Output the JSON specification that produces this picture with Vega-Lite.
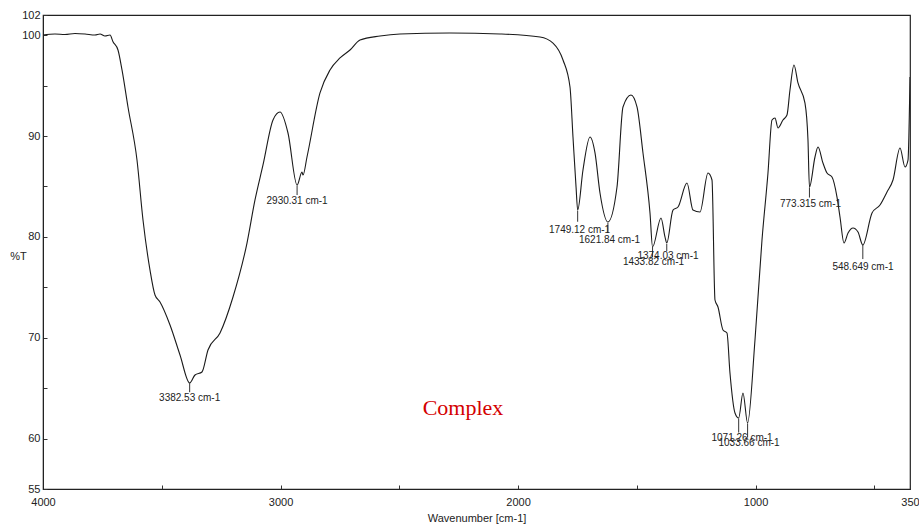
{
  "$schema": "https://vega.github.io/schema/vega-lite/v6.json",
  "width": 867,
  "height": 474,
  "autosize": "none",
  "padding": {"left": 43, "top": 15, "right": 9, "bottom": 37},
  "background": "white",
  "config": {
    "view": {"stroke": "#222222", "strokeWidth": 1.2},
    "font": "Liberation Sans Narrow, Liberation Sans, Arial"
  },
  "datasets": {
    "spectrum": [
      {"w": 4000, "t": 100.02}, {"w": 3949.5, "t": 100.12}, {"w": 3907.4, "t": 100.07}, {"w": 3865.3, "t": 100.17},
      {"w": 3823.2, "t": 100.12}, {"w": 3781.1, "t": 100.02}, {"w": 3760.0, "t": 100.12}, {"w": 3739.0, "t": 99.92},
      {"w": 3717.9, "t": 100.02}, {"w": 3705.3, "t": 99.35}, {"w": 3684.3, "t": 98.53}, {"w": 3667.4, "t": 96.55},
      {"w": 3642.2, "t": 92.88}, {"w": 3604.3, "t": 87.62}, {"w": 3579.0, "t": 81.67}, {"w": 3549.5, "t": 76.71},
      {"w": 3528.5, "t": 74.24}, {"w": 3507.4, "t": 73.54}, {"w": 3465.3, "t": 71.26}, {"w": 3423.2, "t": 68.29},
      {"w": 3382.5, "t": 65.51}, {"w": 3360.1, "t": 66.3}, {"w": 3330.6, "t": 66.6}, {"w": 3305.4, "t": 68.78},
      {"w": 3254.8, "t": 70.47}, {"w": 3200.1, "t": 74.04}, {"w": 3141.2, "t": 79.39}, {"w": 3107.5, "t": 83.66},
      {"w": 3073.8, "t": 87.13}, {"w": 3031.7, "t": 91.59}, {"w": 3002.3, "t": 92.38}, {"w": 2968.6, "t": 90.3},
      {"w": 2930.3, "t": 85.14}, {"w": 2909.7, "t": 86.43}, {"w": 2905.4, "t": 86.13}, {"w": 2888.6, "t": 87.92},
      {"w": 2833.9, "t": 94.27}, {"w": 2791.8, "t": 96.55}, {"w": 2749.7, "t": 97.74}, {"w": 2707.6, "t": 98.53},
      {"w": 2665.5, "t": 99.52}, {"w": 2581.3, "t": 99.92}, {"w": 2497.1, "t": 100.12}, {"w": 2286.6, "t": 100.22},
      {"w": 2076.1, "t": 100.12}, {"w": 1907.7, "t": 99.82}, {"w": 1852.9, "t": 99.22}, {"w": 1810.8, "t": 97.54},
      {"w": 1781.4, "t": 94.86}, {"w": 1768.8, "t": 89.9}, {"w": 1755.9, "t": 84.94}, {"w": 1749.1, "t": 82.66},
      {"w": 1726.7, "t": 86.63}, {"w": 1697.2, "t": 89.9}, {"w": 1676.1, "t": 88.32}, {"w": 1655.1, "t": 84.35},
      {"w": 1621.8, "t": 81.47}, {"w": 1583.5, "t": 84.94}, {"w": 1558.3, "t": 92.88}, {"w": 1524.6, "t": 94.07},
      {"w": 1499.3, "t": 92.88}, {"w": 1474.1, "t": 88.32}, {"w": 1444.6, "t": 82.37}, {"w": 1433.8, "t": 79.0},
      {"w": 1398.3, "t": 81.87}, {"w": 1381.5, "t": 79.99}, {"w": 1374.0, "t": 79.39}, {"w": 1347.8, "t": 82.66},
      {"w": 1326.7, "t": 82.96}, {"w": 1288.9, "t": 85.34}, {"w": 1263.6, "t": 82.66}, {"w": 1234.1, "t": 82.47},
      {"w": 1200.4, "t": 86.33}, {"w": 1183.6, "t": 85.64}, {"w": 1171.0, "t": 73.74}, {"w": 1158.4, "t": 73.05},
      {"w": 1137.3, "t": 70.77}, {"w": 1120.5, "t": 70.47}, {"w": 1107.9, "t": 66.5}, {"w": 1086.8, "t": 62.54},
      {"w": 1071.3, "t": 62.04}, {"w": 1053.1, "t": 64.52}, {"w": 1033.7, "t": 61.54}, {"w": 1002.6, "t": 69.77},
      {"w": 973.1, "t": 79.69}, {"w": 947.9, "t": 86.33}, {"w": 931.0, "t": 91.59}, {"w": 918.4, "t": 91.79},
      {"w": 905.8, "t": 90.8}, {"w": 884.7, "t": 91.59}, {"w": 867.9, "t": 92.08}, {"w": 855.3, "t": 94.56},
      {"w": 838.4, "t": 97.04}, {"w": 821.6, "t": 95.26}, {"w": 792.1, "t": 93.27}, {"w": 779.5, "t": 89.61},
      {"w": 773.3, "t": 84.94}, {"w": 750.0, "t": 87.92}, {"w": 737.3, "t": 88.91}, {"w": 716.3, "t": 87.32},
      {"w": 699.4, "t": 86.33}, {"w": 678.4, "t": 85.94}, {"w": 657.3, "t": 83.95}, {"w": 644.7, "t": 81.97},
      {"w": 627.8, "t": 79.39}, {"w": 610.9, "t": 80.38}, {"w": 589.9, "t": 80.88}, {"w": 568.9, "t": 80.48},
      {"w": 548.6, "t": 79.19}, {"w": 509.9, "t": 82.37}, {"w": 476.3, "t": 83.16}, {"w": 446.8, "t": 84.45},
      {"w": 421.6, "t": 85.64}, {"w": 392.1, "t": 88.81}, {"w": 371.0, "t": 86.93}, {"w": 358.4, "t": 87.62},
      {"w": 350, "t": 95.85}
    ],
    "peaks": [
      {"label": "3382.53 cm-1", "w": 3382.53, "tmin": 65.5, "tend": 64.6, "lw": 3382.5, "lt": 64.02},
      {"label": "2930.31 cm-1", "w": 2930.31, "tmin": 85.1, "tend": 84.15, "lw": 2930.3, "lt": 83.56},
      {"label": "1749.12 cm-1", "w": 1749.12, "tmin": 82.6, "tend": 81.5, "lw": 1741, "lt": 80.7},
      {"label": "1621.84 cm-1", "w": 1621.84, "tmin": 81.4, "tend": 80.4, "lw": 1615, "lt": 79.7},
      {"label": "1433.82 cm-1", "w": 1433.82, "tmin": 79.0, "tend": 78.0, "lw": 1430, "lt": 77.5},
      {"label": "1374.03 cm-1", "w": 1374.03, "tmin": 79.3, "tend": 78.6, "lw": 1368.8, "lt": 78.1},
      {"label": "1071.26 cm-1", "w": 1071.26, "tmin": 62.0, "tend": 60.6, "lw": 1057, "lt": 60.06},
      {"label": "1033.66 cm-1", "w": 1033.66, "tmin": 61.5, "tend": 60.1, "lw": 1027.6, "lt": 59.56},
      {"label": "773.315 cm-1", "w": 773.315, "tmin": 84.9, "tend": 83.9, "lw": 768.8, "lt": 83.26},
      {"label": "548.649 cm-1", "w": 548.649, "tmin": 79.2, "tend": 77.8, "lw": 547.9, "lt": 77.0}
    ],
    "note": [{"label": "Complex", "w": 2232, "t": 63.0}]
  },
  "layer": [
    {
      "data": {"name": "spectrum"},
      "mark": {"type": "line", "color": "#1a1a1a", "strokeWidth": 1.1, "clip": true, "interpolate": "monotone"},
      "encoding": {
        "x": {
          "field": "w", "type": "quantitative",
          "scale": {"domain": [350, 4000], "reverse": true, "nice": false, "zero": false},
          "axis": {
            "title": "Wavenumber [cm-1]",
            "titleFont": "Liberation Sans Narrow, Liberation Sans",
            "titleFontSize": 11, "titleFontWeight": "normal", "titleColor": "#222222",
            "titlePadding": 5,
            "values": [4000, 3500, 3000, 2500, 2000, 1500, 1000, 500, 350],
            "labelExpr": "indexof([4000,3000,2000,1000,350], datum.value) >= 0 ? datum.value : ''",
            "labelFont": "Liberation Sans Narrow, Liberation Sans",
            "labelFontSize": 11, "labelColor": "#222222",
            "labelFlush": false, "labelOverlap": false,
            "tickSize": -4, "labelPadding": 11, "tickColor": "#333333",
            "domainColor": "#222222", "grid": false
          }
        },
        "y": {
          "field": "t", "type": "quantitative",
          "scale": {"domain": [55, 102], "nice": false, "zero": false},
          "axis": {
            "title": "%T",
            "titleAngle": 0, "titleX": -25, "titleY": 246, "titleAlign": "center",
            "titleFont": "Liberation Sans Narrow, Liberation Sans",
            "titleFontSize": 11, "titleFontWeight": "normal", "titleColor": "#222222",
            "values": [55, 60, 65, 70, 75, 80, 85, 90, 95, 100, 102],
            "labelExpr": "indexof([55,60,70,80,90,100,102], datum.value) >= 0 ? datum.value : ''",
            "labelFont": "Liberation Sans Narrow, Liberation Sans",
            "labelFontSize": 11, "labelColor": "#222222",
            "labelFlush": false, "labelOverlap": false,
            "tickSize": -4, "labelPadding": 7, "tickColor": "#333333",
            "domainColor": "#222222", "grid": false
          }
        }
      }
    },
    {
      "data": {"name": "peaks"},
      "mark": {"type": "rule", "color": "#333333", "strokeWidth": 1},
      "encoding": {
        "x": {"field": "w", "type": "quantitative"},
        "y": {"field": "tmin", "type": "quantitative"},
        "y2": {"field": "tend"}
      }
    },
    {
      "data": {"name": "peaks"},
      "mark": {"type": "text", "font": "Liberation Sans Narrow, Liberation Sans", "fontSize": 10, "color": "#222222", "baseline": "middle", "align": "center"},
      "encoding": {
        "x": {"field": "lw", "type": "quantitative"},
        "y": {"field": "lt", "type": "quantitative"},
        "text": {"field": "label"}
      }
    },
    {
      "data": {"name": "note"},
      "mark": {"type": "text", "font": "Liberation Serif", "fontSize": 22, "color": "#d40000", "baseline": "middle", "align": "center"},
      "encoding": {
        "x": {"field": "w", "type": "quantitative"},
        "y": {"field": "t", "type": "quantitative"},
        "text": {"field": "label"}
      }
    }
  ]
}
